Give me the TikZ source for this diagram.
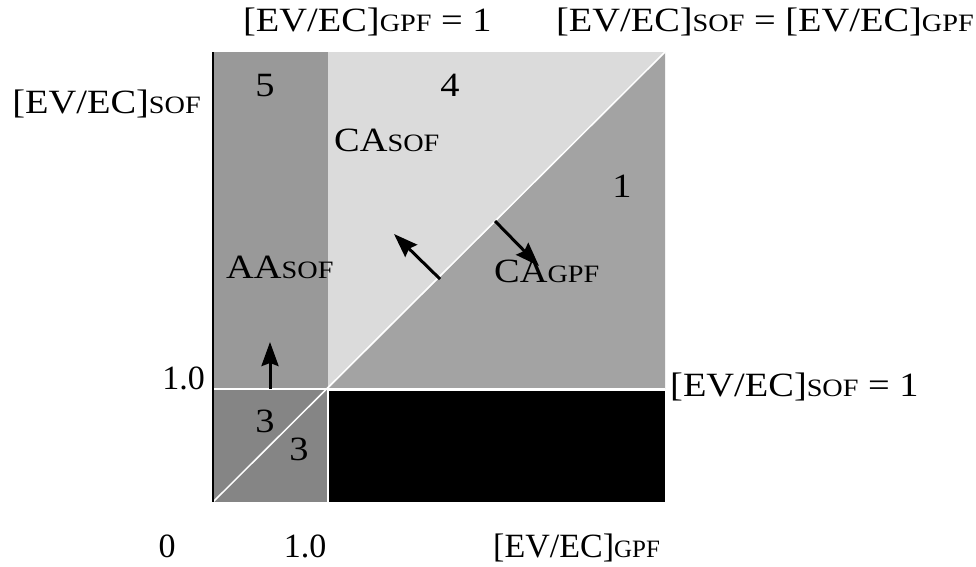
\documentclass[tikz,border=0pt]{standalone}
\usepackage{fontspec}
\usepackage{graphicx}
\setmainfont{Liberation Serif}[FakeStretch=1.13]
\usetikzlibrary{arrows.meta}
\newcommand{\smc}[1]{{\fontsize{25}{25}\selectfont #1}}
\definecolor{rlight}{gray}{0.86}
\definecolor{rmid}{gray}{0.64}
\definecolor{rleft}{gray}{0.60}
\definecolor{rdark}{gray}{0.52}
\begin{document}
\begin{tikzpicture}[x=1pt,y=-1pt,
  lbl/.style={font=\fontsize{34}{34}\selectfont, inner sep=0pt},
  arr/.style={line width=3pt,-{Stealth[length=24pt,width=17pt,inset=3pt]}},
  sep/.style={white,line width=1.5pt}]
\useasboundingbox (0,0) rectangle (976,566);
% regions
\fill[rlight] (328,52) rectangle (665,389);
\fill[rmid] (328,389) -- (665,389) -- (665,52) -- cycle;
\fill[rleft] (213,52) rectangle (328,389);
\fill[rdark] (213,389) rectangle (328,502);
\fill[black] (328,391) rectangle (665,502);
\draw[sep] (213,389) -- (665,389);
\draw[sep] (328,389) -- (328,502);
\draw[sep] (213,502) -- (665,52);
\draw[black,line width=1.2pt] (213,52) -- (213,502);
% labels
\node[lbl,anchor=base west] (t1) at (243,31) {[EV/EC]\smc{GPF} = 1};
\node[lbl,anchor=base east] (t2) at (974,31) {[EV/EC]\smc{SOF} = [EV/EC]\smc{GPF}};
\node[lbl,anchor=base east] (t3) at (201,113) {[EV/EC]\smc{SOF}};
\node[lbl,anchor=base] (n5) at (265,96) {5};
\node[lbl,anchor=base] (n4) at (450,96) {4};
\node[lbl,anchor=base west] (casof) at (334,151) {CA\smc{SOF}};
\node[lbl,anchor=base] (n1) at (622,197) {1};
\node[lbl,anchor=base west] (aasof) at (226,278) {AA\smc{SOF}};
\node[lbl,anchor=base west] (cagpf) at (494,282) {CA\smc{GPF}};
\node[lbl,anchor=base east] (y10) at (205,389) {\scalebox{0.885}[1]{1.0}};
\node[lbl,anchor=base west] (sof1) at (670,396) {[EV/EC]\smc{SOF} = 1};
\node[lbl,anchor=base] (n3a) at (265,432) {3};
\node[lbl,anchor=base] (n3b) at (299,460) {3};
\node[lbl,anchor=base] (x0) at (167,557) {\scalebox{0.885}[1]{0}};
\node[lbl,anchor=base] (x10) at (305,557) {\scalebox{0.885}[1]{1.0}};
\node[lbl,anchor=base west] (xg) at (493,557) {\scalebox{0.885}[1]{[EV/EC]\smc{GPF}}};
% arrows
\coordinate (a1s) at (270,389);
\coordinate (a1e) at (270,342);
\coordinate (a2s) at (440,279);
\coordinate (a2e) at (394,234);
\coordinate (a3s) at (495,221);
\coordinate (a3e) at (539,266);
\draw[arr] (a1s) -- (a1e);
\draw[arr] (a2s) -- (a2e);
\draw[arr] (a3s) -- (a3e);
\end{tikzpicture}
\end{document}
